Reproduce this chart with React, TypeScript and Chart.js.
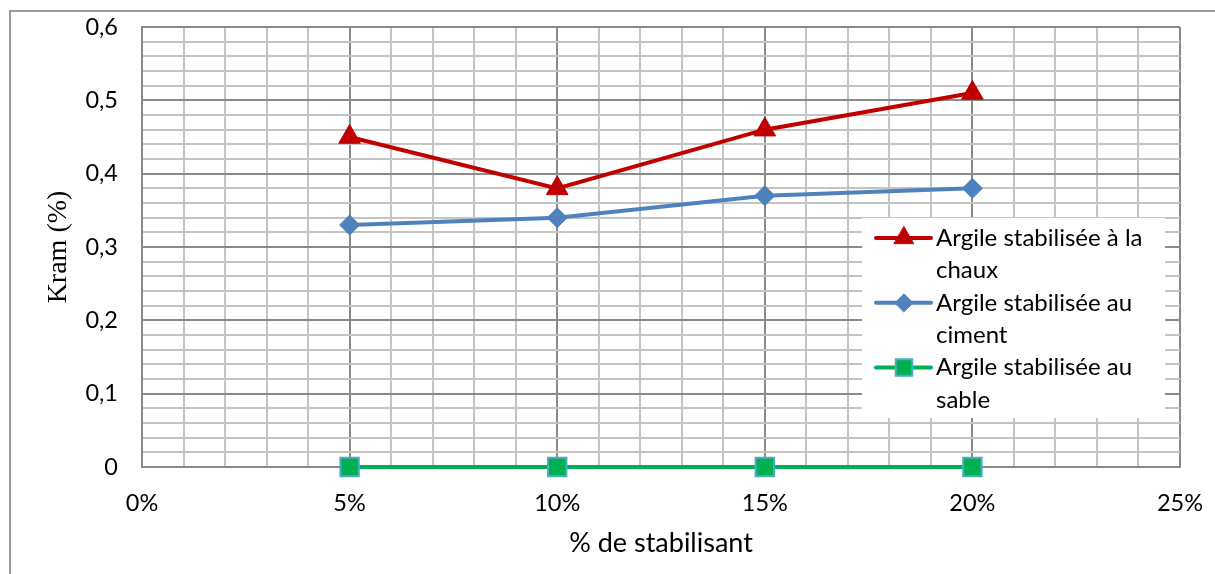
import React, { useEffect, useRef } from 'react';
import { Chart, registerables } from 'chart.js';
import { drawPoint } from 'chart.js/helpers';

Chart.register(...registerables);

// ---- data ----
const xValues = [5, 10, 15, 20]; // % de stabilisant
const chauxValues = [0.45, 0.38, 0.46, 0.51];
const cimentValues = [0.33, 0.34, 0.37, 0.38];
const sableValues = [0, 0, 0, 0];
const seriesNames = [
  'Argile stabilisée à la chaux',
  'Argile stabilisée au ciment',
  'Argile stabilisée au sable',
];
const xAxisTitle = '% de stabilisant';
const yAxisTitle = 'Kram (%)';
const xMajorTicks = [0, 5, 10, 15, 20, 25];
const yMajorTicks = [0, 0.1, 0.2, 0.3, 0.4, 0.5, 0.6];

const SANS = "Lato, 'Open Sans', sans-serif";
const SERIF = "'Liberation Serif', 'DejaVu Serif', serif";
const MAJOR = '#8a8a8a';
const MINOR = '#c4c4c4';

const isMajorX = (v: number) => xMajorTicks.some((t) => Math.abs(t - v) < 1e-6);
const isMajorY = (v: number) => yMajorTicks.some((t) => Math.abs(t - v) < 1e-6);

const frame = {
  id: 'frame',
  beforeDraw(chart: any) {
    const { ctx, width, height } = chart;
    ctx.save();
    ctx.fillStyle = '#ffffff';
    ctx.fillRect(0, 0, width, height);
    ctx.strokeStyle = '#9a9a9a';
    ctx.lineWidth = 2;
    ctx.beginPath();
    ctx.moveTo(10, height);
    ctx.lineTo(10, 11);
    ctx.lineTo(width, 11);
    ctx.stroke();
    ctx.restore();
  },
};

const legendBox = {
  id: 'legendBox',
  afterDraw(chart: any) {
    const { ctx } = chart;
    const box = { x: 862, y: 218, w: 303, h: 200 };
    ctx.save();
    ctx.fillStyle = '#ffffff';
    ctx.fillRect(box.x, box.y, box.w, box.h);
    ctx.font = `24px ${SANS}`;
    ctx.fillStyle = '#000';
    ctx.textBaseline = 'middle';
    ctx.textAlign = 'left';
    const lineH = 32.4;
    const textX = 936;
    const maxW = box.x + box.w - textX - 1;
    let y = 238;
    chart.data.datasets.forEach((ds: any) => {
      ctx.strokeStyle = ds.borderColor;
      ctx.lineWidth = 4;
      ctx.lineCap = 'round';
      ctx.beginPath();
      ctx.moveTo(876, y);
      ctx.lineTo(931, y);
      ctx.stroke();
      ctx.fillStyle = ds.pointBackgroundColor;
      ctx.strokeStyle = ds.pointBorderColor;
      ctx.lineWidth = ds.pointBorderWidth;
      drawPoint(ctx, { pointStyle: ds.pointStyle, rotation: 0, borderWidth: ds.pointBorderWidth, radius: ds.pointRadius * 0.9 } as any, 904, y);
      const words = String(ds.label).split(' ');
      const lines: string[] = [];
      let cur = '';
      words.forEach((w) => {
        const t = cur ? cur + ' ' + w : w;
        if (ctx.measureText(t).width > maxW && cur) {
          lines.push(cur);
          cur = w;
        } else cur = t;
      });
      if (cur) lines.push(cur);
      ctx.fillStyle = '#000';
      lines.forEach((l, i) => ctx.fillText(l, textX, y + i * lineH));
      y += lines.length * lineH;
    });
    ctx.restore();
  },
};

export default function App() {
  const ref = useRef<HTMLCanvasElement>(null);
  useEffect(() => {
    if (!ref.current) return;
    const mk = (vals: number[]) => xValues.map((x, i) => ({ x, y: vals[i] }));
    const chart = new Chart(ref.current, {
      type: 'line',
      data: {
        datasets: [
          {
            label: seriesNames[0],
            data: mk(chauxValues),
            borderColor: '#c00000',
            backgroundColor: '#c00000',
            borderWidth: 4,
            pointStyle: 'triangle',
            pointRadius: 12.5,
            pointBackgroundColor: '#c00000',
            pointBorderColor: '#c00000',
            pointBorderWidth: 1,
            clip: false,
          } as any,
          {
            label: seriesNames[1],
            data: mk(cimentValues),
            borderColor: '#4f81bd',
            backgroundColor: '#4f81bd',
            borderWidth: 4,
            pointStyle: 'rectRot',
            pointRadius: 10,
            pointBackgroundColor: '#4f81bd',
            pointBorderColor: '#4f81bd',
            pointBorderWidth: 1,
            clip: false,
          },
          {
            label: seriesNames[2],
            data: mk(sableValues),
            borderColor: '#00b050',
            backgroundColor: '#00b050',
            borderWidth: 4,
            pointStyle: 'rect',
            pointRadius: 13,
            pointBackgroundColor: '#00b050',
            pointBorderColor: '#4bacc6',
            pointBorderWidth: 2,
            clip: false,
          },
        ],
      },
      options: {
        responsive: false,
        animation: false,
        devicePixelRatio: 1,
        layout: { padding: { top: 27, right: 35, left: 0, bottom: 0 } },
        plugins: { legend: { display: false }, tooltip: { enabled: false } },
        elements: { line: { tension: 0 } },
        scales: {
          x: {
            type: 'linear',
            min: 0,
            max: 25,
            afterFit: (s: any) => {
              s.height = 107;
              s.paddingLeft = 0;
              s.paddingRight = 0;
            },
            ticks: {
              stepSize: 1,
              autoSkip: false,
              maxRotation: 0,
              padding: 22,
              color: '#000',
              font: { family: SANS, size: 23.5 },
              callback: (v: any) => (isMajorX(Number(v)) ? `${Math.round(Number(v))}%` : ''),
            },
            grid: {
              drawTicks: false,
              lineWidth: 2,
              color: (c: any) => (isMajorX(c.tick.value) ? MAJOR : MINOR),
            },
            border: { display: true, color: MAJOR, width: 2 },
            title: {
              display: true,
              text: xAxisTitle,
              color: '#000',
              font: { family: SANS, size: 27 },
              padding: { top: 0, bottom: 15 },
            },
          },
          y: {
            type: 'linear',
            min: 0,
            max: 0.6,
            afterFit: (s: any) => {
              s.width = 142;
              s.paddingTop = 0;
              s.paddingBottom = 0;
            },
            ticks: {
              stepSize: 0.02,
              autoSkip: false,
              padding: 24,
              color: '#000',
              font: { family: SANS, size: 23.5 },
              callback: (v: any) => {
                const n = Number(v);
                if (!isMajorY(n)) return '';
                return n === 0 ? '0' : n.toFixed(1).replace('.', ',');
              },
            },
            grid: {
              drawTicks: false,
              lineWidth: 2,
              color: (c: any) => (isMajorY(c.tick.value) ? MAJOR : MINOR),
            },
            border: { display: true, color: MAJOR, width: 2 },
            title: {
              display: true,
              text: yAxisTitle,
              color: '#000',
              font: { family: SERIF, size: 28 },
              padding: { top: 42, bottom: 0 },
            },
          },
        },
      },
      plugins: [frame, legendBox],
    });
    return () => chart.destroy();
  }, []);
  return (
    <div style={{ position: 'absolute', left: 0, top: 0, width: 1215, height: 574, background: '#fff' }}>
      <canvas ref={ref} width={1215} height={574} style={{ display: 'block' }} />
    </div>
  );
}
